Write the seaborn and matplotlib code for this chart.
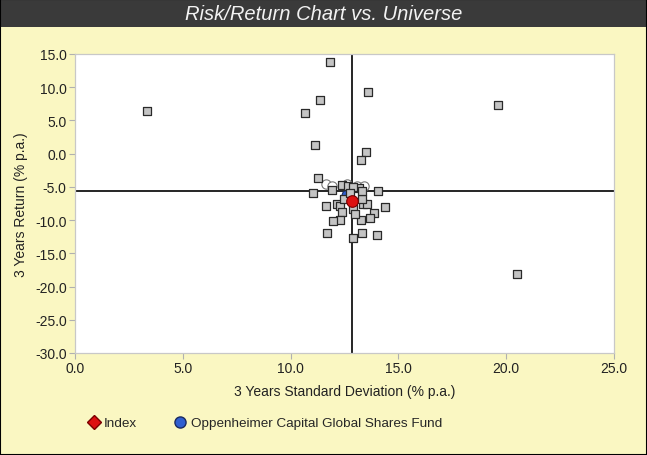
import matplotlib
matplotlib.use("Agg")
import matplotlib.pyplot as plt
import seaborn as sns
import pandas as pd
from matplotlib.lines import Line2D
from matplotlib.patches import Rectangle

# ---- data ----
universe_sd = [3.34, 11.83, 19.62, 13.59, 11.36, 10.67, 11.15, 13.50, 13.25, 20.50,
               11.27, 11.02, 14.04, 14.40, 11.67, 13.30, 14.02, 12.88, 11.63, 12.14,
               12.29, 12.37, 12.91, 13.87, 13.68, 13.25, 12.29, 11.98, 12.99, 13.37,
               13.53, 13.30, 12.48, 11.94, 12.37, 12.68, 13.19, 12.90, 13.30, 12.75]
universe_ret = [6.42, 13.80, 7.32, 9.28, 8.08, 6.12, 1.25, 0.25, -0.90, -18.10,
                -3.70, -5.90, -5.65, -8.00, -12.00, -11.90, -12.20, -12.70, -7.90, -7.50,
                -7.83, -8.83, -8.33, -8.93, -9.73, -9.93, -10.00, -10.08, -9.08, -7.58,
                -7.58, -6.80, -6.80, -5.47, -4.67, -4.90, -5.17, -5.00, -5.60, -5.90]
faded_sd = [11.64, 11.90, 13.07, 13.40, 12.60]
faded_ret = [-4.57, -4.90, -4.80, -4.80, -4.50]
fund_sd = [12.62]
fund_ret = [-6.25]
index_sd = [12.86]
index_ret = [-7.10]
avg_sd = 12.85
avg_ret = -5.62

x_ticks = [0.0, 5.0, 10.0, 15.0, 20.0, 25.0]
y_ticks = [15.0, 10.0, 5.0, 0.0, -5.0, -10.0, -15.0, -20.0, -25.0, -30.0]

title = "Risk/Return Chart vs. Universe"
x_label = "3 Years Standard Deviation (% p.a.)"
y_label = "3 Years Return (% p.a.)"
index_name = "Index"
fund_name = "Oppenheimer Capital Global Shares Fund"

# ---- style ----
sns.set_style("white")
plt.rcParams['font.family'] = ['Liberation Sans', 'DejaVu Sans']

BG = "#FAF7C2"
fig = plt.figure(figsize=(6.47, 4.56), dpi=100, facecolor=BG)
ax = fig.add_axes([75/647, 1-354/456, (614-75)/647, (354-55)/456])
ax.set_facecolor("white")

uni = pd.DataFrame({"sd": universe_sd, "ret": universe_ret})
fad = pd.DataFrame({"sd": faded_sd, "ret": faded_ret})
fnd = pd.DataFrame({"sd": fund_sd, "ret": fund_ret})
idx = pd.DataFrame({"sd": index_sd, "ret": index_ret})

ax.axvline(avg_sd, color="black", lw=1.2, zorder=2)
ax.axhline(avg_ret, color="black", lw=1.2, zorder=2)

sns.scatterplot(data=fad, x="sd", y="ret", ax=ax, marker="o", s=45,
                facecolor="white", edgecolor="#777777", linewidth=0.8, zorder=3)
sns.scatterplot(data=fnd, x="sd", y="ret", ax=ax, marker="o", s=60,
                color="#2F5FD0", edgecolor="#1a2a60", linewidth=0.8, zorder=3.5)
sns.scatterplot(data=uni, x="sd", y="ret", ax=ax, marker="s", s=26,
                color="#C4C4C4", edgecolor="#2a2a2a", linewidth=0.9, zorder=4)
sns.scatterplot(data=idx, x="sd", y="ret", ax=ax, marker="o", s=70,
                color="#DD1111", edgecolor="#7a0000", linewidth=0.8, zorder=6)

ax.set_xlim(0, 25)
ax.set_ylim(-30, 15)
ax.set_xticks(x_ticks)
ax.set_yticks(y_ticks)
ax.set_xticklabels([f"{v:.1f}" for v in x_ticks])
ax.set_yticklabels([f"{v:.1f}" for v in y_ticks])
ax.tick_params(axis="both", which="both", direction="out", length=4, width=0.8,
               color="#B0B0B0", labelsize=10, labelcolor="#222222", pad=2,
               left=True, bottom=True)
for sp in ax.spines.values():
    sp.set_color("#C8C8C8")
    sp.set_linewidth(0.9)
ax.set_xlabel(x_label, fontsize=10, color="#222222", labelpad=6)
ax.set_ylabel(y_label, fontsize=10, color="#222222", labelpad=5)
ax.grid(False)

# title bar
fig.patches.append(Rectangle((0, 1-28/456), 1, 28/456, transform=fig.transFigure,
                             facecolor="#3A3A3A", edgecolor="none", zorder=0))
fig.text(0.5, 1-14/456, title, ha="center", va="center", color="#F2F2F2",
         fontsize=14.5, fontstyle="italic", fontweight="normal")
# frame
fig.patches.append(Rectangle((0, 0), 1, 1, transform=fig.transFigure,
                             facecolor="none", edgecolor="black", linewidth=1.5, zorder=10))

handles = [
    Line2D([], [], marker="D", linestyle="none", markersize=7,
           markerfacecolor="#DD1111", markeredgecolor="#7a0000", label=index_name),
    Line2D([], [], marker="o", linestyle="none", markersize=8,
           markerfacecolor="#2F5FD0", markeredgecolor="#1a2a60", label=fund_name),
]
fig.legend(handles=handles, loc="center left", bbox_to_anchor=(82/647, 1-424/456),
           ncol=2, frameon=False, fontsize=9.7, handletextpad=0.25, columnspacing=2.7,
           borderaxespad=0, handlelength=1.0)

fig.savefig("out.png", dpi=100, facecolor=BG)
